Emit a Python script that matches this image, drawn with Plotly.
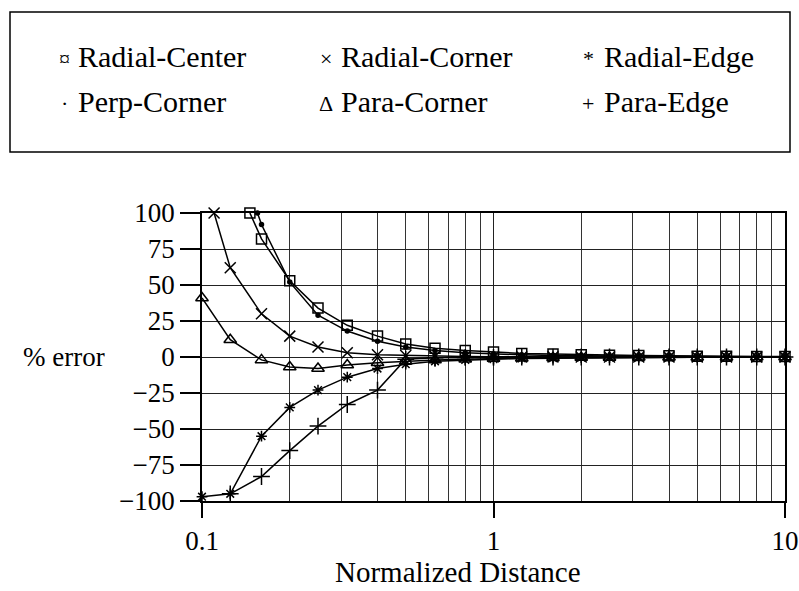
import plotly.graph_objects as go

# ---- data ----
names = ["Radial-Center", "Radial-Corner", "Radial-Edge",
         "Perp-Corner", "Para-Corner", "Para-Edge"]
legend_glyphs = ["¤", "×", "*", "·", "Δ", "+"]

radial_center_x = [0.146, 0.16, 0.2, 0.25, 0.315, 0.4, 0.5, 0.63, 0.8, 1, 1.25, 1.6, 2, 2.5, 3.15, 4, 5, 6.3, 8, 10]
radial_center_y = [100, 82, 53, 34, 22, 14.5, 9, 6, 4.5, 3.5, 2.5, 2, 1.5, 1.2, 1, 0.8, 0.6, 0.5, 0.4, 0.3]

radial_corner_x = [0.11, 0.125, 0.16, 0.2, 0.25, 0.315, 0.4, 0.5, 0.63, 0.8, 1, 1.25, 1.6, 2, 2.5, 3.15, 4, 5, 6.3, 8, 10]
radial_corner_y = [100, 62, 30, 14.5, 7, 3, 1.5, 1, 0.5, 0.3, 0.2, 0.1, 0.1, 0, 0, 0, 0, 0, 0, 0, 0]

radial_edge_x = [0.1, 0.125, 0.16, 0.2, 0.25, 0.315, 0.4, 0.5, 0.63, 0.8, 1, 1.25, 1.6, 2, 2.5, 3.15, 4, 5, 6.3, 8, 10]
radial_edge_y = [-97, -95, -55, -35, -23, -14, -8, -5, -3, -2, -1.5, -1, -0.8, -0.5, -0.4, -0.3, -0.2, -0.2, -0.1, -0.1, 0]

perp_corner_x = [0.155, 0.16, 0.2, 0.25, 0.315, 0.4, 0.5, 0.63, 0.8, 1, 1.25, 1.6, 2, 2.5, 3.15, 4, 5, 6.3, 8, 10]
perp_corner_y = [100, 92, 52, 29, 18, 11, 7, 4.5, 3, 2, 1.5, 1, 0.8, 0.6, 0.5, 0.4, 0.3, 0.2, 0.2, 0.1]

para_corner_x = [0.1, 0.125, 0.16, 0.2, 0.25, 0.315, 0.4, 0.5, 0.63, 0.8, 1, 1.25, 1.6, 2, 2.5, 3.15, 4, 5, 6.3, 8, 10]
para_corner_y = [41, 12, -2, -7, -8, -5.5, -4, -3, -2, -1.5, -1, -0.8, -0.5, -0.4, -0.3, -0.2, -0.2, -0.1, -0.1, 0, 0]

para_edge_x = [0.125, 0.16, 0.2, 0.25, 0.315, 0.4, 0.5, 0.63, 0.8, 1, 1.25, 1.6, 2, 2.5, 3.15, 4, 5, 6.3, 8, 10]
para_edge_y = [-95, -83, -65, -48, -33, -23, -1.5, -0.5, -0.3, -0.2, -0.1, -0.1, 0, 0, 0, 0, 0, 0, 0, 0]

x_tick_vals = [0.1, 1, 10]
x_tick_text = ["0.1", "1", "10"]
x_minor_vals = [0.2, 0.3, 0.4, 0.5, 0.6, 0.7, 0.8, 0.9, 2, 3, 4, 5, 6, 7, 8, 9]
y_tick_vals = [-100, -75, -50, -25, 0, 25, 50, 75, 100]
x_title = "Normalized Distance"
y_title = "% error"

# ---- styling ----
FONT = "Liberation Serif"
W, H = 799, 591
L, R, T, B = 202, 785, 213, 501  # plot area in pixels

def px_x(p):
    return (p - L) / (R - L)

def px_y(p):
    return (B - p) / (B - T)

series = [
    (radial_center_x, radial_center_y, dict(symbol="square-open", size=10)),
    (radial_corner_x, radial_corner_y, dict(symbol="x-thin-open", size=11)),
    (radial_edge_x, radial_edge_y, dict(symbol="asterisk-open", size=9)),
    (perp_corner_x, perp_corner_y, dict(symbol="circle", size=4)),
    (para_corner_x, para_corner_y, dict(symbol="triangle-up-open", size=11)),
    (para_edge_x, para_edge_y, dict(symbol="cross-thin-open", size=12)),
]

fig = go.Figure()
for name, (xs, ys, mk) in zip(names, series):
    fig.add_trace(go.Scatter(
        x=xs, y=ys, name=name, mode="lines+markers",
        line=dict(color="black", width=1.5),
        marker=dict(color="black", line=dict(color="black", width=1.5), **mk),
        cliponaxis=False, showlegend=False,
    ))

fig.update_layout(
    width=W, height=H,
    margin=dict(l=L, r=W - R, t=T, b=H - B),
    paper_bgcolor="white", plot_bgcolor="white",
    font=dict(family=FONT, size=27, color="black"),
    showlegend=False,
)

fig.update_xaxes(
    type="log", range=[-1, 1],
    tickmode="array", tickvals=x_tick_vals, ticktext=x_tick_text,
    ticks="outside", ticklen=15, tickwidth=1.5, tickcolor="black",
    showgrid=True, gridcolor="#222", gridwidth=1.3,
    minor=dict(tickmode="array", tickvals=x_minor_vals, showgrid=True,
               gridcolor="#333", gridwidth=1.3, ticks=""),
    showline=True, mirror=True, linecolor="black", linewidth=1.5,
    tickfont=dict(family=FONT, size=27),
    zeroline=False, automargin=False,
)
fig.update_yaxes(
    range=[-100, 100],
    tickmode="array", tickvals=y_tick_vals,
    ticks="outside", ticklen=20, tickwidth=1.5, tickcolor="black",
    showgrid=True, gridcolor="#222", gridwidth=1.3,
    showline=True, mirror=True, linecolor="black", linewidth=1.5,
    tickfont=dict(family=FONT, size=27),
    zeroline=False, automargin=False,
)

# axis labels
fig.add_annotation(text=y_title, xref="paper", yref="paper",
                   x=px_x(64), y=px_y(357), showarrow=False,
                   xanchor="center", yanchor="middle",
                   font=dict(family=FONT, size=27))
fig.add_annotation(text=x_title, xref="paper", yref="paper",
                   x=px_x(458), y=px_y(572), showarrow=False,
                   xanchor="center", yanchor="middle",
                   font=dict(family=FONT, size=29))

# legend box
fig.add_shape(type="rect", xref="paper", yref="paper",
              x0=px_x(10), x1=px_x(790), y0=px_y(152), y1=px_y(12),
              line=dict(color="black", width=1.5), fillcolor="rgba(0,0,0,0)")

glyph_cx = [64, 326, 588]
text_lx = [76, 339, 602]
row_cy = [56, 101]
for i, (nm, gl) in enumerate(zip(names, legend_glyphs)):
    r, c = divmod(i, 3)
    fig.add_annotation(text=gl, xref="paper", yref="paper",
                       x=px_x(glyph_cx[c]), y=px_y(row_cy[r] + 2), showarrow=False,
                       xanchor="center", yanchor="middle",
                       font=dict(family=FONT, size=22))
    fig.add_annotation(text=nm, xref="paper", yref="paper",
                       x=px_x(text_lx[c]), y=px_y(row_cy[r]), showarrow=False,
                       xanchor="left", yanchor="middle",
                       font=dict(family=FONT, size=30))

fig.write_html(
    "out.html",
    config={"displayModeBar": False},
    post_script="document.body.style.margin='0';document.body.style.overflow='hidden';",
)
